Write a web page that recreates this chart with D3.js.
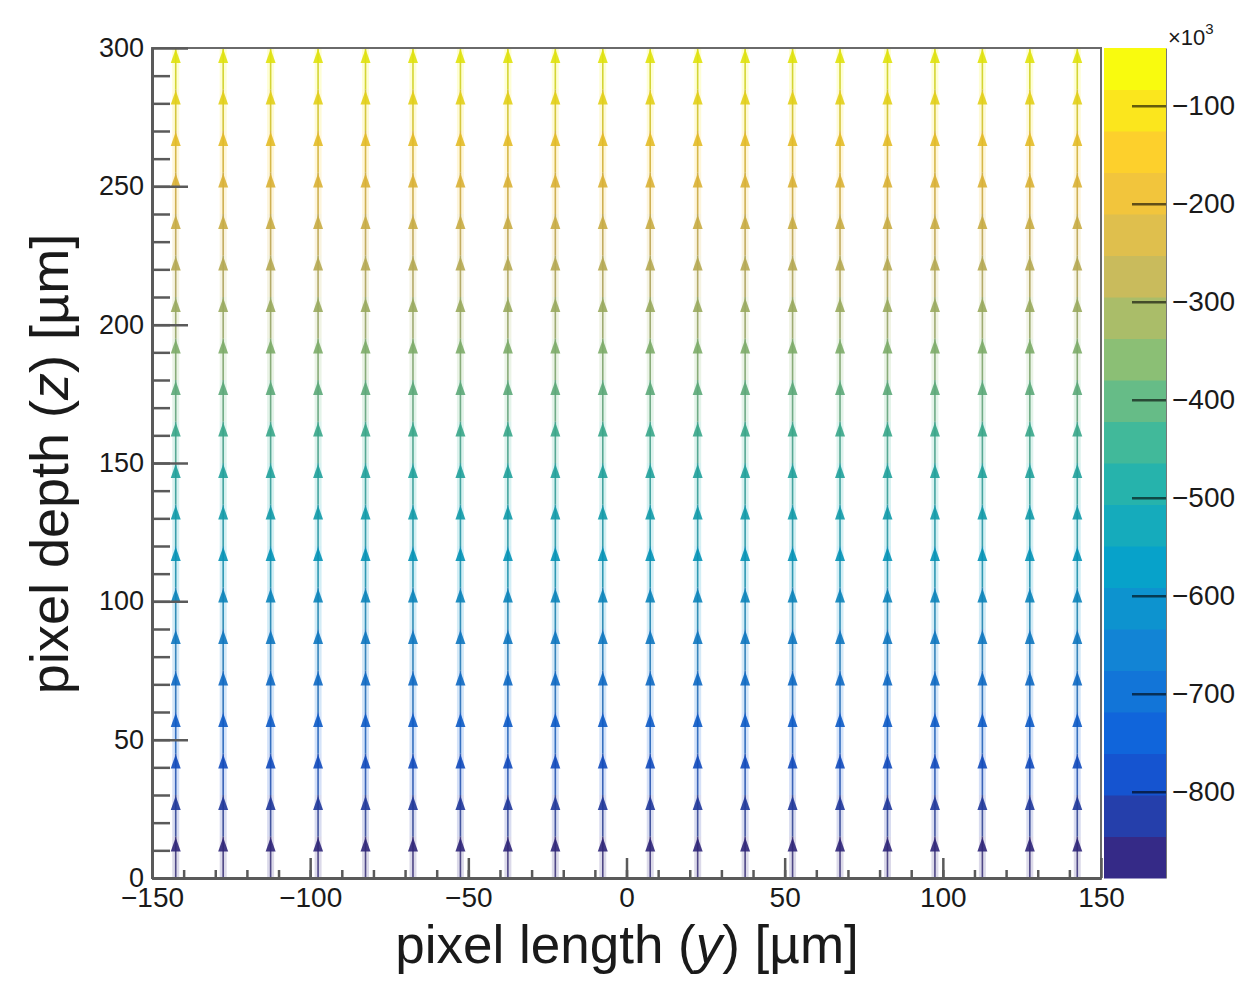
<!DOCTYPE html>
<meta charset="utf-8">
<style>
html, body { margin: 0; padding: 0; background: #fff; }
svg text { font-family: "Liberation Sans", Arial, Helvetica, sans-serif; fill: #1a1a1a; }
.axis path, .axis line { stroke: #5a5a5a; }
</style>
<svg id="chart" width="1244" height="981"></svg>
<script src="https://cdn.jsdelivr.net/npm/d3@7/dist/d3.min.js"></script>
<script>

// vector grid positions [um]
var gridY = [-142.5, -127.5, -112.5, -97.5, -82.5, -67.5, -52.5, -37.5, -22.5, -7.5,
             7.5, 22.5, 37.5, 52.5, 67.5, 82.5, 97.5, 112.5, 127.5, 142.5];
var gridZ = [7.5, 22.5, 37.5, 52.5, 67.5, 82.5, 97.5, 112.5, 127.5, 142.5,
             157.5, 172.5, 187.5, 202.5, 217.5, 232.5, 247.5, 262.5, 277.5, 292.5];
var stepZ = 15;

// field value of each depth row (x10^3), same for every column
var fieldEz = [-866, -824, -782, -739, -697, -655, -612, -570, -527, -485,
               -443, -400, -358, -316, -273, -231, -188, -146, -104, -61];

var xTicks = [-150, -100, -50, 0, 50, 100, 150];
var yTicks = [0, 50, 100, 150, 200, 250, 300];
var zTicks = [-800, -700, -600, -500, -400, -300, -200, -100];
var zRange = [-888, -41];
var nContours = 20;

// ROOT kBird palette
var birdStops = [0, 0.125, 0.25, 0.375, 0.5, 0.625, 0.75, 0.875, 1];
var birdR = [0.2082, 0.0592, 0.0780, 0.0232, 0.1802, 0.5301, 0.8186, 0.9956, 0.9764];
var birdG = [0.1664, 0.3599, 0.5041, 0.6419, 0.7178, 0.7492, 0.7328, 0.7862, 0.9832];
var birdB = [0.5293, 0.8684, 0.8385, 0.7914, 0.6425, 0.4662, 0.3499, 0.1968, 0.0539];

var bird = d3.scaleLinear().domain(birdStops)
  .range(birdStops.map(function(s, i) {
    return d3.rgb(birdR[i] * 255, birdG[i] * 255, birdB[i] * 255);
  }))
  .interpolate(d3.interpolateRgb);

function bandOf(v) {
  var i = Math.floor((v - zRange[0]) / (zRange[1] - zRange[0]) * nContours);
  return Math.max(0, Math.min(nContours - 1, i));
}
function colorOf(v) { return bird(bandOf(v) / (nContours - 1)); }

var svg = d3.select("#chart");
var padL = 152, padR = 1101, padT = 48, padB = 878;
var cbLeft = 1104, cbRight = 1166;

var x = d3.scaleLinear().domain([-150, 150]).range([padL, padR]);
var y = d3.scaleLinear().domain([0, 300]).range([padB, padT]);
var zc = d3.scaleLinear().domain(zRange).range([padB, padT]);

// vectors
var vecs = [];
gridY.forEach(function(gy) {
  gridZ.forEach(function(gz, j) {
    vecs.push({y: gy, z: gz, v: fieldEz[j]});
  });
});

var vg = svg.append("g");
vg.selectAll("line.halo").data(vecs).enter().append("line")
  .attr("class", "halo")
  .attr("x1", function(d) { return x(d.y); })
  .attr("x2", function(d) { return x(d.y); })
  .attr("y1", function(d) { return y(d.z - stepZ / 2); })
  .attr("y2", function(d) { return y(d.z + stepZ / 2); })
  .attr("stroke", function(d) { return colorOf(d.v); })
  .attr("stroke-width", 7)
  .attr("stroke-opacity", 0.18);

vg.selectAll("line.core").data(vecs).enter().append("line")
  .attr("class", "core")
  .attr("x1", function(d) { return x(d.y); })
  .attr("x2", function(d) { return x(d.y); })
  .attr("y1", function(d) { return y(d.z - stepZ / 2); })
  .attr("y2", function(d) { return y(d.z + stepZ / 2); })
  .attr("stroke", function(d) { return d3.rgb(colorOf(d.v)).darker(0.6); })
  .attr("stroke-width", 1.6)
  .attr("stroke-opacity", 0.8);

vg.selectAll("path.head").data(vecs).enter().append("path")
  .attr("class", "head")
  .attr("d", function(d) {
    var cx = x(d.y), tip = y(d.z + stepZ / 2) + 1;
    return "M" + cx + "," + tip + "L" + (cx - 5) + "," + (tip + 14) +
           "L" + (cx + 5) + "," + (tip + 14) + "Z";
  })
  .attr("fill", function(d) { return d3.rgb(colorOf(d.v)).darker(0.3); })
  .attr("fill-opacity", 0.9);

// frame
svg.append("rect")
  .attr("x", padL).attr("y", padT)
  .attr("width", padR - padL).attr("height", padB - padT)
  .attr("fill", "none").attr("stroke", "#6a6a6a").attr("stroke-width", 2);

// axes
svg.append("g").attr("class", "axis")
  .attr("transform", "translate(0," + padB + ")")
  .call(d3.axisBottom(x).tickValues(d3.range(-140, 150, 10)).tickSize(-8).tickSizeOuter(0).tickFormat(""));
var xAxis = svg.append("g").attr("class", "axis")
  .attr("transform", "translate(0," + padB + ")")
  .call(d3.axisBottom(x).tickValues(xTicks).tickSize(-20).tickSizeOuter(0).tickPadding(9)
        .tickFormat(function(d) { return d < 0 ? "\u2212" + Math.abs(d) : d; }));

svg.append("g").attr("class", "axis")
  .attr("transform", "translate(" + padL + ",0)")
  .call(d3.axisLeft(y).tickValues(d3.range(10, 300, 10)).tickSize(-18).tickSizeOuter(0).tickFormat(""));
var yAxis = svg.append("g").attr("class", "axis")
  .attr("transform", "translate(" + padL + ",0)")
  .call(d3.axisLeft(y).tickValues(yTicks).tickSize(-36).tickSizeOuter(0).tickPadding(8));

svg.selectAll(".axis line").attr("stroke-width", 2.5);
svg.selectAll(".axis path.domain").attr("stroke-width", 3);
xAxis.selectAll("text").style("font-size", "28px");
yAxis.selectAll("text").style("font-size", "27px");

// colour bar
var bands = d3.range(nContours);
var bandH = (zRange[1] - zRange[0]) / nContours;
svg.append("g").selectAll("rect").data(bands).enter().append("rect")
  .attr("x", cbLeft)
  .attr("width", cbRight - cbLeft)
  .attr("y", function(i) { return zc(zRange[0] + (i + 1) * bandH); })
  .attr("height", function(i) { return zc(zRange[0] + i * bandH) - zc(zRange[0] + (i + 1) * bandH) + 0.5; })
  .attr("fill", function(i) { return bird(i / (nContours - 1)); });

var zAxis = svg.append("g").attr("class", "zaxis")
  .attr("transform", "translate(" + cbRight + ",0)")
  .call(d3.axisRight(zc).tickValues(zTicks).tickSize(-34).tickSizeOuter(0).tickPadding(6)
        .tickFormat(function(d) { return "\u2212" + Math.abs(d); }));
zAxis.select("path.domain").attr("stroke", "#777").attr("stroke-width", 1);
zAxis.selectAll("line").attr("stroke", "#000").attr("stroke-opacity", 0.6).attr("stroke-width", 2.5);
zAxis.selectAll("text").style("font-size", "28px");

var mult = svg.append("text").attr("x", 1168).attr("y", 45).style("font-size", "22px");
mult.append("tspan").text("\u00d710");
mult.append("tspan").attr("dy", -11).style("font-size", "15px").text("3");

// titles
svg.append("text")
  .attr("x", 627).attr("y", 963)
  .attr("text-anchor", "middle")
  .style("font-size", "53px")
  .html('pixel length (<tspan font-style="italic">y</tspan>) [\u00b5m]');

svg.append("text")
  .attr("transform", "translate(68,464) rotate(-90)")
  .attr("text-anchor", "middle")
  .style("font-size", "54px")
  .html('pixel depth (<tspan font-style="italic">z</tspan>) [\u00b5m]');

</script>
